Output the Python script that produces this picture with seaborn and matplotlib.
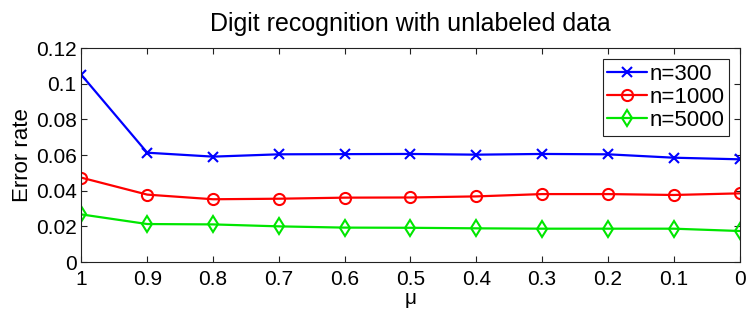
import matplotlib
matplotlib.use('Agg')
import matplotlib.pyplot as plt
import pandas as pd
import seaborn as sns

# values
mu = [1.0, 0.9, 0.8, 0.7, 0.6, 0.5, 0.4, 0.3, 0.2, 0.1, 0.0]
err_300 = [0.1049, 0.0613, 0.0591, 0.0604, 0.0605, 0.0606, 0.0602, 0.0606, 0.0604, 0.0585, 0.0576]
err_1000 = [0.0473, 0.0378, 0.0352, 0.0355, 0.0361, 0.0362, 0.0368, 0.0381, 0.0381, 0.0376, 0.0385]
err_5000 = [0.0267, 0.0213, 0.0211, 0.0200, 0.0193, 0.0192, 0.0189, 0.0187, 0.0187, 0.0187, 0.0174]

series = [('n=300', err_300, 'blue', 'x'),
          ('n=1000', err_1000, 'red', 'o'),
          ('n=5000', err_5000, '#00e600', 'd')]

sns.set_style('ticks')
plt.rcParams['font.family'] = ['Liberation Sans', 'DejaVu Sans']

fig, ax = plt.subplots(figsize=(7.47, 3.18), dpi=100)
fig.subplots_adjust(left=0.109, right=0.99, top=0.849, bottom=0.176)

for name, vals, col, mk in series:
    d = pd.DataFrame({'mu': mu, 'err': vals})
    sns.lineplot(data=d, x='mu', y='err', ax=ax, color=col, marker=mk,
                 markersize=8 if mk != 'x' else 7, mfc='none', mec=col,
                 mew=1.5, linewidth=1.6, label=name)

ax.set_xlim(1, 0)
ax.set_ylim(0, 0.12)
ax.set_xticks(mu)
ax.set_xticklabels(['1', '0.9', '0.8', '0.7', '0.6', '0.5', '0.4', '0.3', '0.2', '0.1', '0'])
ax.set_yticks([0, 0.02, 0.04, 0.06, 0.08, 0.1, 0.12])
ax.set_yticklabels(['0', '0.02', '0.04', '0.06', '0.08', '0.1', '0.12'])
ax.tick_params(direction='in', top=True, right=True, labelsize=15, length=4,
               colors='#222222', labelcolor='black')
ax.tick_params(axis='x', pad=6)
for s in ax.spines.values():
    s.set_linewidth(0.8)
    s.set_color('#222222')

ax.set_xlabel('μ', fontsize=15, labelpad=0, color='black')
ax.set_ylabel('Error rate', fontsize=16, labelpad=2, color='black')
ax.set_title('Digit recognition with unlabeled data', fontsize=18, pad=12, color='black')

leg = ax.legend(loc='upper right', fontsize=16, numpoints=1, handlelength=1.8,
                handletextpad=0.1, borderpad=0.2, labelspacing=0.1, borderaxespad=0,
                fancybox=False, framealpha=1, bbox_to_anchor=(0.984, 0.947))
leg.get_frame().set_edgecolor('#222222')
leg.get_frame().set_linewidth(0.8)
for t in leg.get_texts():
    t.set_color('black')

fig.savefig('out.png', dpi=100)
